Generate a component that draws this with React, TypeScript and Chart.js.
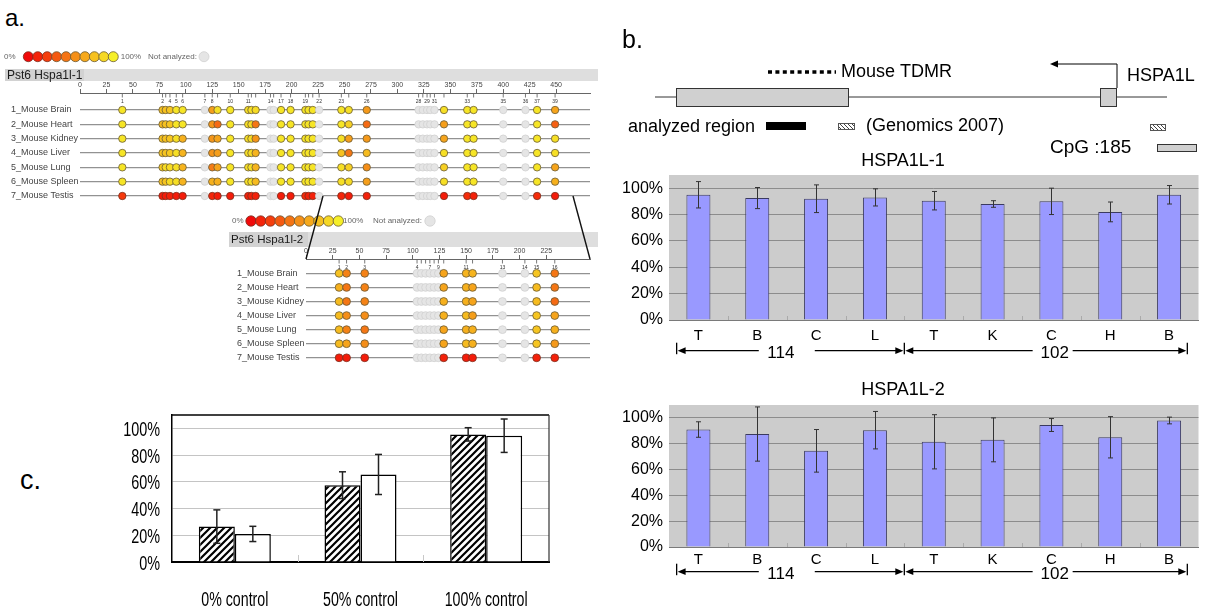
import React, { useEffect, useRef } from "react";
import { Chart, registerables } from "chart.js";
Chart.register(...registerables);

const FONT = "'Liberation Sans', Arial, Helvetica, sans-serif";
Chart.defaults.font.family = FONT;

const N = null;

// ---------------- Panel a data ----------------
const tissueRows = ["1_Mouse Brain", "2_Mouse Heart", "3_Mouse Kidney", "4_Mouse Liver", "5_Mouse Lung", "6_Mouse Spleen", "7_Mouse Testis"];
const legendValues = [0, 11, 22, 33, 44, 56, 67, 78, 89, 100];

const hspa1l1Sites = [40, 78, 81, 85, 91, 97, 118, 125, 130, 142, 159, 162, 166, 180, 183, 190, 199, 213, 216, 220, 226, 247, 254, 271, 320, 324, 328, 331, 335, 344, 366, 372, 400, 421, 432, 449];
const hspa1l1SiteLabels = ["1", "2", "", "4", "5", "6", "7", "8", "", "10", "11", "", "", "14", "", "17", "18", "19", "", "", "22", "23", "", "26", "28", "", "29", "", "31", "", "33", "", "35", "36", "37", "39"];
const hspa1l1Brain = [95, 78, 78, 80, 95, 95, N, 62, 92, 95, 92, 92, 90, N, N, 95, 95, 95, 95, 95, N, 95, 92, 60, N, N, N, N, N, 92, 95, 95, N, N, 95, 65];
const hspa1l1Heart = [95, 75, 78, 80, 95, 95, N, 58, 40, 95, 92, 90, 45, N, N, 95, 95, 95, 95, 95, N, 95, 85, 40, N, N, N, N, N, 62, 95, 95, N, N, 95, 35];
const hspa1l1Kidney = [95, 78, 78, 80, 92, 70, N, 58, 65, 95, 92, 90, 58, N, N, 95, 95, 95, 95, 95, N, 92, 62, 60, N, N, N, N, N, 65, 95, 95, N, N, 95, 92];
const hspa1l1Liver = [95, 80, 80, 82, 92, 72, N, 58, 62, 95, 92, 90, 72, N, N, 95, 95, 95, 95, 95, N, 78, 45, 75, N, N, N, N, N, 92, 95, 95, N, N, 95, 92];
const hspa1l1Lung = [95, 82, 90, 90, 92, 72, N, 48, 65, 95, 92, 92, 72, N, N, 95, 95, 95, 95, 95, N, 92, 85, 55, N, N, N, N, N, 85, 95, 95, N, N, 95, 65];
const hspa1l1Spleen = [95, 78, 80, 90, 92, 72, N, 70, 70, 95, 92, 92, 75, N, N, 95, 95, 95, 95, 95, N, 92, 90, 62, N, N, N, N, N, 92, 95, 95, N, N, 95, 70];
const hspa1l1Testis = [20, 8, 8, 10, 8, 8, N, 12, 8, 8, 10, 10, 10, N, N, 8, 8, 15, 10, 10, N, 12, 8, 10, N, N, N, N, N, 8, 15, 10, N, N, 15, 8];

const hspa1l2Sites = [31, 38, 55, 104, 108, 112, 116, 120, 124, 129, 150, 156, 184, 205, 216, 233];
const hspa1l2SiteLabels = ["1", "2", "3", "4", "", "", "7", "", "9", "", "11", "", "13", "14", "15", "16"];
const hspa1l2Brain = [78, 50, 50, N, N, N, N, N, N, 65, 72, 72, N, N, 80, 45];
const hspa1l2Heart = [70, 45, 50, N, N, N, N, N, N, 65, 70, 65, N, N, 75, 45];
const hspa1l2Kidney = [75, 45, 50, N, N, N, N, N, N, 70, 70, 65, N, N, 75, 40];
const hspa1l2Liver = [75, 55, 55, N, N, N, N, N, N, 70, 75, 62, N, N, 80, 65];
const hspa1l2Lung = [75, 50, 45, N, N, N, N, N, N, 65, 70, 70, N, N, 80, 70];
const hspa1l2Spleen = [75, 65, 55, N, N, N, N, N, N, 65, 75, 70, N, N, 80, 60];
const hspa1l2Testis = [8, 8, 8, N, N, N, N, N, N, 10, 8, 8, N, N, 10, 10];

// ---------------- Panel b data ----------------
const tissueLabels = ["T", "B", "C", "L", "T", "K", "C", "H", "B"];
const groupLabels = ["114", "102"];
const hspa1l1Mean = [95, 92.5, 92, 93, 90.5, 88, 90, 82, 95];
const hspa1l1Err = [10, 8, 10.5, 6.5, 7, 2.5, 10, 7.5, 7];
const hspa1l2Mean = [91, 87.5, 74.5, 90.5, 81.5, 83, 94.5, 85, 98];
const hspa1l2Err = [6, 21, 16.5, 14.5, 21, 17, 5, 16, 2.6];
const percentTicks = [0, 20, 40, 60, 80, 100];

// ---------------- Panel c data ----------------
const controlLabels = ["0% control", "50% control", "100% control"];
const hatchedMean = [26.5, 57.5, 95.5];
const hatchedErr = [12.5, 10, 5];
const whiteMean = [21, 65.5, 94.5];
const whiteErr = [5.7, 15, 12.5];

// ---------------- helpers ----------------
type Box = { left: number; top: number; width: number; height: number };
type Area = { left: number; top: number; right: number; bottom: number };

function methColor(v: number | null) {
  if (v === null) return "#e5e5e5";
  const h = (v / 100) * 58;
  const l = 49 + (v / 100) * 7;
  return `hsl(${h.toFixed(1)}, 92%, ${l.toFixed(1)}%)`;
}
function methBorder(v: number | null) {
  if (v === null) return "#d0d0d0";
  return v < 30 ? "#7a3020" : "#6a5a35";
}
function circle(ctx: CanvasRenderingContext2D, x: number, y: number, r: number, fill: string, stroke: string, lw = 0.8) {
  ctx.beginPath();
  ctx.arc(x, y, r, 0, Math.PI * 2);
  ctx.fillStyle = fill;
  ctx.fill();
  ctx.strokeStyle = stroke;
  ctx.lineWidth = lw;
  ctx.stroke();
}
function makeHatch(ctx: CanvasRenderingContext2D, size: number, lw: number, fg: string, bg: string, forward: boolean) {
  const c = document.createElement("canvas");
  c.width = size;
  c.height = size;
  const g = c.getContext("2d")!;
  g.fillStyle = bg;
  g.fillRect(0, 0, size, size);
  g.strokeStyle = fg;
  g.lineWidth = lw;
  g.beginPath();
  if (forward) {
    g.moveTo(0, size); g.lineTo(size, 0);
    g.moveTo(-size / 2, size / 2); g.lineTo(size / 2, -size / 2);
    g.moveTo(size / 2, size * 1.5); g.lineTo(size * 1.5, size / 2);
  } else {
    g.moveTo(0, 0); g.lineTo(size, size);
    g.moveTo(-size / 2, size / 2); g.lineTo(size / 2, size * 1.5);
    g.moveTo(size / 2, -size / 2); g.lineTo(size * 1.5, size / 2);
  }
  g.stroke();
  return ctx.createPattern(c, "repeat")!;
}
function condensedText(ctx: CanvasRenderingContext2D, t: string, x: number, y: number, align: CanvasTextAlign, size: number, sx: number) {
  ctx.save();
  ctx.translate(x, y);
  ctx.scale(sx, 1);
  ctx.font = `${size}px ${FONT}`;
  ctx.textAlign = align;
  ctx.textBaseline = "middle";
  ctx.fillStyle = "#000";
  ctx.fillText(t, 0, 0);
  ctx.restore();
}

// ---------------- methylation charts ----------------
type MethylOpts = {
  box: Box; labelLeft: number; area: Area; row1Y: number; row7Y: number;
  sites: number[]; siteLabels: string[]; rows: (number | null)[][]; xMax: number;
  title: string; titleSize: number;
  bar: { left: number; right: number; top: number; bottom: number; labelRight: number };
  legend: { y: number; zeroX: number; first: number; spacing: number; r: number; hundredX: number; naX: number; naCircle: number };
  radius: number; diagonals?: number[][];
};

function methylPlugin(o: MethylOpts) {
  return {
    id: "methylDecor",
    beforeDraw(chart: any) {
      const ctx: CanvasRenderingContext2D = chart.ctx;
      ctx.save();
      ctx.translate(-o.box.left, -o.box.top);
      const b = o.bar;
      ctx.fillStyle = "#dedede";
      ctx.fillRect(b.left, b.top, b.right - b.left, b.bottom - b.top);
      ctx.fillStyle = "#d2d2d2";
      ctx.fillRect(b.left, b.top, b.labelRight - b.left, b.bottom - b.top);
      ctx.fillStyle = "#1a1a1a";
      ctx.font = `${o.titleSize}px ${FONT}`;
      ctx.textBaseline = "middle";
      ctx.textAlign = "left";
      ctx.fillText(o.title, b.left + 2, (b.top + b.bottom) / 2 + 0.5);
      const L = o.legend;
      ctx.font = `8px ${FONT}`;
      ctx.fillStyle = "#666";
      ctx.fillText("0%", L.zeroX, L.y);
      legendValues.forEach((v, i) => circle(ctx, L.first + i * L.spacing, L.y, L.r, methColor(v), methBorder(v)));
      ctx.fillStyle = "#666";
      ctx.font = `8px ${FONT}`;
      ctx.fillText("100%", L.hundredX, L.y);
      ctx.fillText("Not analyzed:", L.naX, L.y);
      circle(ctx, L.naCircle, L.y, L.r, methColor(null), methBorder(null));
      ctx.restore();
    },
    afterDraw(chart: any) {
      const ctx: CanvasRenderingContext2D = chart.ctx;
      const xs = chart.scales.x;
      const top = chart.chartArea.top;
      ctx.save();
      ctx.strokeStyle = "#555";
      ctx.lineWidth = 0.8;
      ctx.fillStyle = "#333";
      ctx.font = `5px ${FONT}`;
      ctx.textAlign = "center";
      ctx.textBaseline = "middle";
      o.sites.forEach((s, i) => {
        const x = xs.getPixelForValue(s);
        ctx.beginPath();
        ctx.moveTo(x, top + 1);
        ctx.lineTo(x, top + 4.5);
        ctx.stroke();
        if (o.siteLabels[i]) ctx.fillText(o.siteLabels[i], x, top + 8.5);
      });
      if (o.diagonals) {
        ctx.translate(-o.box.left, -o.box.top);
        ctx.strokeStyle = "#111";
        ctx.lineWidth = 1.4;
        o.diagonals.forEach((d) => {
          ctx.beginPath();
          ctx.moveTo(d[0], d[1]);
          ctx.lineTo(d[2], d[3]);
          ctx.stroke();
        });
      }
      ctx.restore();
    },
  };
}

function methylConfig(o: MethylOpts): any {
  const sp = (o.row7Y - o.row1Y) / 6;
  const yMin = 1 - (o.row1Y - o.area.top) / sp;
  const yMax = yMin + (o.area.bottom - o.area.top) / sp;
  const xAxisH = 14;
  return {
    type: "scatter",
    data: {
      datasets: o.rows.map((vals, ri) => ({
        data: o.sites.map((s) => ({ x: s, y: ri + 1 })),
        pointRadius: o.radius,
        pointHoverRadius: o.radius,
        pointBackgroundColor: vals.map(methColor),
        pointBorderColor: vals.map(methBorder),
        pointBorderWidth: 0.8,
      })),
    },
    options: {
      responsive: false,
      animation: false,
      events: [],
      layout: {
        padding: {
          left: o.labelLeft - o.box.left,
          top: o.area.top - o.box.top - xAxisH,
          right: o.box.left + o.box.width - o.area.right,
          bottom: o.box.top + o.box.height - o.area.bottom,
        },
      },
      plugins: { legend: { display: false }, tooltip: { enabled: false } },
      scales: {
        x: {
          type: "linear",
          position: "top",
          min: 0,
          max: o.xMax,
          ticks: { stepSize: 25, autoSkip: false, maxRotation: 0, padding: 0, color: "#444", font: { family: FONT, size: 7 } },
          grid: { drawOnChartArea: false, drawTicks: true, tickLength: 4, color: "#666", lineWidth: 1 },
          border: { display: true, color: "#666", width: 1 },
          afterBuildTicks: (s: any) => {
            s.ticks = s.ticks.filter((t: any) => t.value % 25 === 0 && t.value <= o.xMax);
          },
          afterFit: (s: any) => {
            s.height = xAxisH;
            s.paddingLeft = 0;
            s.paddingRight = 0;
          },
        },
        y: {
          type: "linear",
          reverse: true,
          min: yMin,
          max: yMax,
          ticks: { crossAlign: "far", padding: 0, color: "#444", font: { family: FONT, size: 9 }, callback: (_v: any, i: number) => tissueRows[i] },
          grid: { color: "#929292", lineWidth: 1.2, drawTicks: false },
          border: { display: false },
          afterBuildTicks: (s: any) => {
            s.ticks = tissueRows.map((_, i) => ({ value: i + 1 }));
          },
          afterFit: (s: any) => {
            s.width = o.area.left - o.labelLeft;
            s.paddingTop = 0;
            s.paddingBottom = 0;
          },
        },
      },
    },
    plugins: [methylPlugin(o)],
  };
}

// ---------------- bar charts (panel b) ----------------
type BarOpts = {
  box: Box; area: Area; means: number[]; errs: number[]; title: string; titleX: number; titleY: number;
  labelPad: number; arrowY: number; diagram: boolean;
};

function arrowHead(ctx: CanvasRenderingContext2D, x: number, y: number, dir: number) {
  ctx.beginPath();
  ctx.moveTo(x, y);
  ctx.lineTo(x - dir * 8, y - 3.4);
  ctx.lineTo(x - dir * 8, y + 3.4);
  ctx.closePath();
  ctx.fill();
}
function segment(ctx: CanvasRenderingContext2D, x1: number, y1: number, x2: number, y2: number) {
  ctx.beginPath();
  ctx.moveTo(x1, y1);
  ctx.lineTo(x2, y2);
  ctx.stroke();
}

function drawDiagram(ctx: CanvasRenderingContext2D) {
  ctx.save();
  ctx.strokeStyle = "#333";
  ctx.fillStyle = "#000";
  ctx.lineWidth = 1;
  segment(ctx, 655, 97, 1167, 97);
  ctx.fillStyle = "#d0d0d0";
  ctx.fillRect(676, 88, 172, 18);
  ctx.strokeRect(676.5, 88.5, 172, 18);
  ctx.fillRect(1100, 88, 17, 18);
  ctx.strokeRect(1100.5, 88.5, 16, 18);
  ctx.strokeStyle = "#000";
  segment(ctx, 1117, 88, 1117, 64);
  segment(ctx, 1117, 64, 1058, 64);
  ctx.fillStyle = "#000";
  arrowHead(ctx, 1050, 64, -1);
  ctx.lineWidth = 3.5;
  ctx.setLineDash([4, 3.4]);
  segment(ctx, 768, 72, 836, 72);
  ctx.setLineDash([]);
  ctx.lineWidth = 1;
  ctx.fillStyle = "#000";
  ctx.fillRect(766, 122, 40, 8);
  const hatch = makeHatch(ctx, 4, 1, "#444", "#fff", false);
  ctx.fillStyle = hatch;
  ctx.fillRect(838, 123, 17, 7);
  ctx.fillRect(1150, 124, 16, 7);
  ctx.strokeStyle = "#555";
  ctx.strokeRect(838.5, 123.5, 16, 6);
  ctx.strokeRect(1150.5, 124.5, 15, 6);
  ctx.fillStyle = "#d0d0d0";
  ctx.fillRect(1157, 144, 40, 8);
  ctx.strokeStyle = "#333";
  ctx.strokeRect(1157.5, 144.5, 39, 7);
  ctx.fillStyle = "#000";
  ctx.font = `18px ${FONT}`;
  ctx.textBaseline = "middle";
  ctx.textAlign = "left";
  ctx.fillText("Mouse TDMR", 841, 72);
  ctx.fillText("HSPA1L", 1127, 76);
  ctx.fillText("analyzed region", 628, 127);
  ctx.fillText("(Genomics 2007)", 866, 126);
  ctx.font = `19px ${FONT}`;
  ctx.fillText("CpG :185", 1050, 148);
  ctx.restore();
}

function barPlugin(o: BarOpts) {
  return {
    id: "barDecor",
    beforeDraw(chart: any) {
      const { ctx, chartArea: a } = chart;
      ctx.save();
      ctx.fillStyle = "#cccccc";
      ctx.fillRect(a.left, a.top, a.right - a.left, a.bottom - a.top);
      ctx.restore();
    },
    beforeDatasetsDraw(chart: any) {
      const { ctx, chartArea: a } = chart;
      const xs = chart.scales.x;
      ctx.save();
      ctx.strokeStyle = "#aaaaaa";
      ctx.lineWidth = 1;
      for (let i = 0; i < tissueLabels.length - 1; i++) {
        const x = Math.round((xs.getPixelForValue(i) + xs.getPixelForValue(i + 1)) / 2) + 0.5;
        segment(ctx, x, a.bottom - 4, x, a.bottom);
      }
      ctx.restore();
    },
    afterDatasetsDraw(chart: any) {
      const ctx: CanvasRenderingContext2D = chart.ctx;
      const ys = chart.scales.y;
      const meta = chart.getDatasetMeta(0);
      ctx.save();
      ctx.strokeStyle = "#333";
      ctx.lineWidth = 1;
      meta.data.forEach((el: any, i: number) => {
        const v = o.means[i];
        const e = o.errs[i];
        const x = Math.round(el.x) + 0.5;
        const y1 = ys.getPixelForValue(v + e);
        const y2 = ys.getPixelForValue(v - e);
        segment(ctx, x, y1, x, y2);
        segment(ctx, x - 2.5, y1, x + 2.5, y1);
        segment(ctx, x - 2.5, y2, x + 2.5, y2);
      });
      ctx.restore();
    },
    afterDraw(chart: any) {
      const ctx: CanvasRenderingContext2D = chart.ctx;
      const xs = chart.scales.x;
      ctx.save();
      ctx.translate(-o.box.left, -o.box.top);
      if (o.diagram) drawDiagram(ctx);
      ctx.fillStyle = "#000";
      ctx.font = `18px ${FONT}`;
      ctx.textAlign = "center";
      ctx.textBaseline = "middle";
      ctx.fillText(o.title, o.titleX, o.titleY);
      // group arrows
      const off = o.box.left;
      const c = (i: number) => xs.getPixelForValue(i) + off;
      const cw = c(1) - c(0);
      const y = o.arrowY;
      const L = c(0) - 0.37 * cw;
      const M = c(3) + 0.5 * cw;
      const R = c(8) + 0.31 * cw;
      ctx.strokeStyle = "#000";
      ctx.fillStyle = "#000";
      ctx.lineWidth = 1.3;
      [L, M, R].forEach((x) => segment(ctx, x, y - 8, x, y + 3.5));
      const t1 = c(1) + 0.4 * cw;
      const t2 = c(6) + 0.055 * cw;
      segment(ctx, L + 6, y, t1 - 22, y);
      arrowHead(ctx, L + 1, y, -1);
      segment(ctx, t1 + 34, y, M - 6, y);
      arrowHead(ctx, M - 1, y, 1);
      segment(ctx, M + 6, y, t2 - 22, y);
      arrowHead(ctx, M + 1, y, -1);
      segment(ctx, t2 + 18, y, R - 6, y);
      arrowHead(ctx, R - 1, y, 1);
      ctx.font = `17px ${FONT}`;
      ctx.fillText(groupLabels[0], t1, y + 3);
      ctx.fillText(groupLabels[1], t2, y + 3);
      ctx.restore();
    },
  };
}

function barConfig(o: BarOpts): any {
  const { box, area } = o;
  return {
    type: "bar",
    data: {
      labels: tissueLabels,
      datasets: [
        {
          data: o.means,
          backgroundColor: "#9999ff",
          borderColor: "#3a3a60",
          borderWidth: 1,
          barPercentage: 0.408,
          categoryPercentage: 1,
        },
      ],
    },
    options: {
      responsive: false,
      animation: false,
      events: [],
      layout: { padding: { left: 0, top: area.top - box.top, right: box.left + box.width - area.right, bottom: 0 } },
      plugins: { legend: { display: false }, tooltip: { enabled: false } },
      scales: {
        x: {
          grid: { display: false },
          border: { display: true, color: "#7a7a7a", width: 1 },
          ticks: { font: { family: FONT, size: 15 }, color: "#000", padding: o.labelPad, autoSkip: false, maxRotation: 0 },
          afterFit: (s: any) => {
            s.height = box.top + box.height - area.bottom;
            s.paddingLeft = 0;
            s.paddingRight = 0;
          },
        },
        y: {
          min: 0,
          max: 110,
          ticks: { stepSize: 20, callback: (v: any) => v + "%", font: { family: FONT, size: 16 }, color: "#000", padding: 6 },
          grid: { color: "#8c8c8c", drawTicks: false, lineWidth: 1 },
          border: { display: false },
          afterBuildTicks: (s: any) => {
            s.ticks = percentTicks.map((v) => ({ value: v }));
          },
          afterFit: (s: any) => {
            s.width = area.left - box.left;
            s.paddingTop = 0;
            s.paddingBottom = 0;
          },
        },
      },
    },
    plugins: [barPlugin(o)],
  };
}

// ---------------- panel c ----------------
const cBox: Box = { left: 100, top: 400, width: 460, height: 214 };
const cArea: Area = { left: 172, top: 415, right: 549, bottom: 562 };

function controlConfig(ctx: CanvasRenderingContext2D): any {
  const hatch = makeHatch(ctx, 7, 2.2, "#000", "#fff", true);
  const errs = [hatchedErr, whiteErr];
  return {
    type: "bar",
    data: {
      labels: controlLabels,
      datasets: [
        { data: hatchedMean, backgroundColor: hatch, borderColor: "#000", borderWidth: 1.5, barPercentage: 1, categoryPercentage: 0.573 },
        { data: whiteMean, backgroundColor: "#ffffff", borderColor: "#000", borderWidth: 1.5, barPercentage: 1, categoryPercentage: 0.573 },
      ],
    },
    options: {
      responsive: false,
      animation: false,
      events: [],
      layout: { padding: { left: 0, top: cArea.top - cBox.top, right: cBox.left + cBox.width - cArea.right, bottom: 0 } },
      plugins: { legend: { display: false }, tooltip: { enabled: false } },
      scales: {
        x: {
          grid: { display: false },
          border: { display: true, color: "#000", width: 2 },
          ticks: { display: false },
          afterFit: (s: any) => {
            s.height = cBox.top + cBox.height - cArea.bottom;
            s.paddingLeft = 0;
            s.paddingRight = 0;
          },
        },
        y: {
          min: 0,
          max: 110,
          ticks: { display: false, stepSize: 20 },
          grid: { color: "#c4c4c4", drawTicks: false, lineWidth: 1 },
          border: { display: true, color: "#000", width: 1.5 },
          afterBuildTicks: (s: any) => {
            s.ticks = percentTicks.map((v) => ({ value: v }));
          },
          afterFit: (s: any) => {
            s.width = cArea.left - cBox.left;
            s.paddingTop = 0;
            s.paddingBottom = 0;
          },
        },
      },
    },
    plugins: [
      {
        id: "controlDecor",
        beforeDatasetsDraw(chart: any) {
          const { ctx: c2, chartArea: a } = chart;
          const xs = chart.scales.x;
          c2.save();
          c2.strokeStyle = "#c8c8c8";
          c2.lineWidth = 1;
          for (let i = 0; i < controlLabels.length - 1; i++) {
            const x = Math.round((xs.getPixelForValue(i) + xs.getPixelForValue(i + 1)) / 2) + 0.5;
            segment(c2, x, a.bottom - 7, x, a.bottom);
          }
          c2.restore();
        },
        afterDatasetsDraw(chart: any) {
          const c2: CanvasRenderingContext2D = chart.ctx;
          const ys = chart.scales.y;
          const xs = chart.scales.x;
          c2.save();
          c2.strokeStyle = "#222";
          c2.lineWidth = 1.5;
          chart.data.datasets.forEach((ds: any, di: number) => {
            chart.getDatasetMeta(di).data.forEach((el: any, i: number) => {
              const v = ds.data[i];
              const e = errs[di][i];
              const x = el.x;
              const y1 = ys.getPixelForValue(v + e);
              const y2 = ys.getPixelForValue(v - e);
              segment(c2, x, y1, x, y2);
              segment(c2, x - 3.5, y1, x + 3.5, y1);
              segment(c2, x - 3.5, y2, x + 3.5, y2);
            });
          });
          const a = chart.chartArea;
          c2.strokeStyle = "#000";
          c2.lineWidth = 1.5;
          segment(c2, a.left, a.top, a.right, a.top);
          c2.strokeStyle = "#333";
          c2.lineWidth = 1.2;
          segment(c2, a.right, a.top, a.right, a.bottom);
          // condensed tick labels
          percentTicks.forEach((v) => condensedText(c2, v + "%", a.left - 12, ys.getPixelForValue(v) + 2, "right", 20, 0.72));
          controlLabels.forEach((t, i) => condensedText(c2, t, xs.getPixelForValue(i), a.bottom + 38, "center", 20, 0.71));
          c2.restore();
        },
      },
    ],
  };
}

// ---------------- layout definitions ----------------
const a1Box: Box = { left: 0, top: 40, width: 600, height: 170 };
const a2Box: Box = { left: 220, top: 190, width: 380, height: 180 };
const b1Box: Box = { left: 620, top: 40, width: 592, height: 340 };
const b2Box: Box = { left: 620, top: 380, width: 592, height: 234 };

const a1Opts: MethylOpts = {
  box: a1Box, labelLeft: 11, area: { left: 80, top: 93, right: 590, bottom: 205 }, row1Y: 110, row7Y: 196,
  sites: hspa1l1Sites, siteLabels: hspa1l1SiteLabels,
  rows: [hspa1l1Brain, hspa1l1Heart, hspa1l1Kidney, hspa1l1Liver, hspa1l1Lung, hspa1l1Spleen, hspa1l1Testis],
  xMax: 482, title: "Pst6 Hspa1l-1", titleSize: 12,
  bar: { left: 5, right: 598, top: 69, bottom: 81, labelRight: 84 },
  legend: { y: 56.7, zeroX: 4, first: 28.3, spacing: 9.44, r: 5, hundredX: 120.7, naX: 148, naCircle: 204 },
  radius: 3.7,
};
const a2Opts: MethylOpts = {
  box: a2Box, labelLeft: 237, area: { left: 306, top: 259, right: 590, bottom: 368 }, row1Y: 273.7, row7Y: 360.3,
  sites: hspa1l2Sites, siteLabels: hspa1l2SiteLabels,
  rows: [hspa1l2Brain, hspa1l2Heart, hspa1l2Kidney, hspa1l2Liver, hspa1l2Lung, hspa1l2Spleen, hspa1l2Testis],
  xMax: 266, title: "Pst6 Hspa1l-2", titleSize: 11.5,
  bar: { left: 229, right: 598, top: 232, bottom: 247, labelRight: 308 },
  legend: { y: 221, zeroX: 232, first: 251, spacing: 9.7, r: 5.2, hundredX: 343, naX: 373, naCircle: 430 },
  radius: 3.9,
  diagonals: [[323, 196, 306, 259], [573, 196, 590, 259]],
};
const b1Opts: BarOpts = {
  box: b1Box, area: { left: 669, top: 175, right: 1198.5, bottom: 320 }, means: hspa1l1Mean, errs: hspa1l1Err,
  title: "HSPA1L-1", titleX: 903, titleY: 161, labelPad: -1, arrowY: 350.7, diagram: true,
};
const b2Opts: BarOpts = {
  box: b2Box, area: { left: 669, top: 405, right: 1198.5, bottom: 547 }, means: hspa1l2Mean, errs: hspa1l2Err,
  title: "HSPA1L-2", titleX: 903, titleY: 390, labelPad: -4, arrowY: 571.7, diagram: false,
};

function canvasStyle(b: Box): React.CSSProperties {
  return { position: "absolute", left: b.left, top: b.top, width: b.width, height: b.height };
}

export default function App() {
  const a1 = useRef<HTMLCanvasElement>(null);
  const a2 = useRef<HTMLCanvasElement>(null);
  const b1 = useRef<HTMLCanvasElement>(null);
  const b2 = useRef<HTMLCanvasElement>(null);
  const c1 = useRef<HTMLCanvasElement>(null);

  useEffect(() => {
    const charts: Chart[] = [];
    charts.push(new Chart(a1.current!, methylConfig(a1Opts)));
    charts.push(new Chart(a2.current!, methylConfig(a2Opts)));
    charts.push(new Chart(b1.current!, barConfig(b1Opts)));
    charts.push(new Chart(b2.current!, barConfig(b2Opts)));
    charts.push(new Chart(c1.current!, controlConfig(c1.current!.getContext("2d")!)));
    return () => charts.forEach((c) => c.destroy());
  }, []);

  const label = (t: string, left: number, top: number, size: number) => (
    <div style={{ position: "absolute", left, top, fontSize: size, fontFamily: FONT, color: "#000", lineHeight: 1 }}>{t}</div>
  );

  return (
    <div style={{ position: "absolute", left: 0, top: 0, width: 1212, height: 614, background: "#fff", overflow: "hidden" }}>
      <canvas ref={a1} width={a1Box.width} height={a1Box.height} style={canvasStyle(a1Box)} />
      <canvas ref={a2} width={a2Box.width} height={a2Box.height} style={canvasStyle(a2Box)} />
      <canvas ref={b1} width={b1Box.width} height={b1Box.height} style={canvasStyle(b1Box)} />
      <canvas ref={b2} width={b2Box.width} height={b2Box.height} style={canvasStyle(b2Box)} />
      <canvas ref={c1} width={cBox.width} height={cBox.height} style={canvasStyle(cBox)} />
      {label("a.", 5, 6, 24)}
      {label("b.", 622, 27, 25)}
      {label("c.", 20, 467, 27)}
    </div>
  );
}
